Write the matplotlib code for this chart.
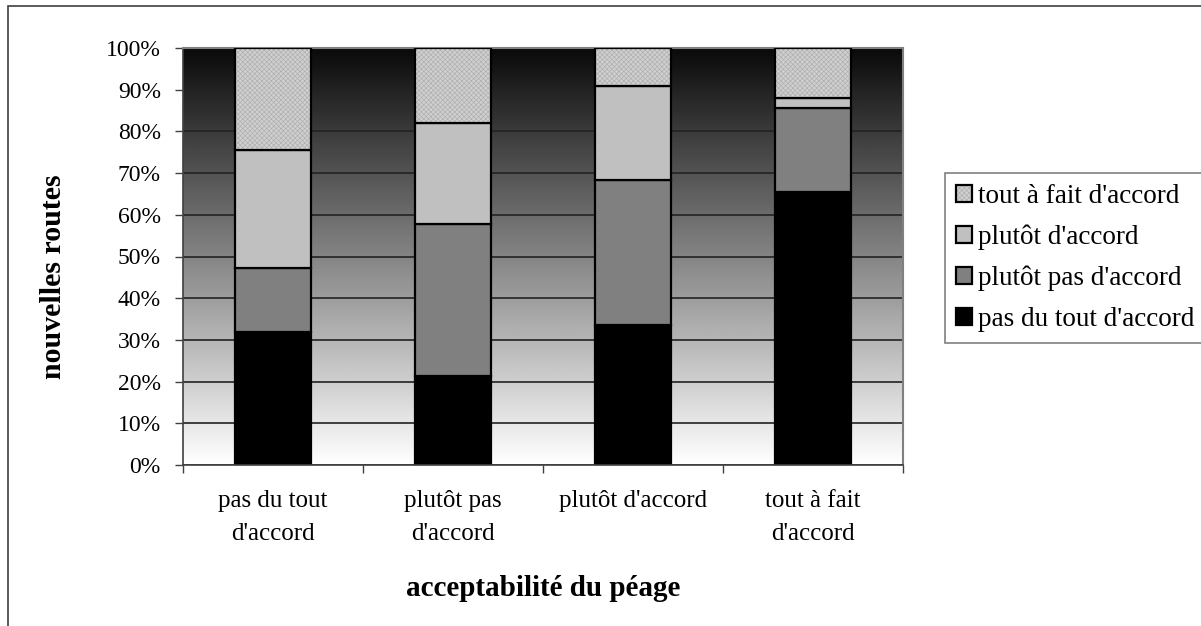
import matplotlib
matplotlib.use("Agg")
import matplotlib.pyplot as plt
from matplotlib.patches import Patch, Rectangle
import numpy as np

plt.rcParams['font.family'] = ['Liberation Serif', 'DejaVu Serif']
plt.rcParams['hatch.linewidth'] = 0.5

# Data (percent of respondents), bottom to top
categories = ["pas du tout\nd'accord", "plutôt pas\nd'accord", "plutôt d'accord", "tout à fait\nd'accord"]
pas_du_tout = [32.0, 21.3, 33.5, 65.5]
plutot_pas = [15.2, 36.4, 34.8, 20.1]
plutot_accord = [28.3, 24.2, 22.6, 2.3]
tout_a_fait = [24.5, 18.1, 9.1, 12.1]
series_names = ["pas du tout d'accord", "plutôt pas d'accord", "plutôt d'accord", "tout à fait d'accord"]
y_ticks = list(range(0, 101, 10))

W, H = 1201, 626
fig = plt.figure(figsize=(W / 100, H / 100), dpi=100)
ax = fig.add_axes([183 / W, 1 - 465 / H, 720 / W, 417 / H])

# Outer chart frame (only left and top visible)
fig.add_artist(Rectangle((8 / W, -0.1), 1.5, 1.1 - 6 / H, transform=fig.transFigure,
                         fill=False, edgecolor='#404040', lw=1.2))

# Gradient background of the plot area: dark at top, white at bottom
grad = np.linspace(1.0, 0.04, 256).reshape(-1, 1)
ax.imshow(grad, extent=(-0.5, 3.5, 0, 100), cmap='gray', vmin=0, vmax=1,
          aspect='auto', origin='lower', zorder=0)

x = np.arange(len(categories))
width = 0.42
bottom = np.zeros(len(categories))
colors = ['#000000', '#808080', '#c0c0c0']
for vals, c in zip([pas_du_tout, plutot_pas, plutot_accord], colors):
    ax.bar(x, vals, width, bottom=bottom, color=c, edgecolor='black', lw=1.6, zorder=2)
    bottom += np.array(vals)
# Textured top segment: hatch layer, then black outline
hatch_face, hatch_col, hatch_pat = '#d0d0d0', '#b0b0b0', 'xxxxxxx'
ax.bar(x, tout_a_fait, width, bottom=bottom, color=hatch_face, edgecolor=hatch_col,
       hatch=hatch_pat, lw=0, zorder=2)
ax.bar(x, tout_a_fait, width, bottom=bottom, fill=False, edgecolor='black', lw=1.6, zorder=3)

ax.set_xlim(-0.5, 3.5)
ax.set_ylim(0, 100)
ax.set_yticks(y_ticks)
ax.set_yticklabels([f"{v}%" for v in y_ticks], fontsize=17)
ax.tick_params(axis='y', direction='out', length=6, width=1, color='#404040', pad=10)

# Category boundary ticks (major) and centred labels (minor)
ax.set_xticks(np.arange(-0.5, 4, 1))
ax.set_xticklabels([])
ax.set_xticks(x, minor=True)
ax.set_xticklabels(categories, minor=True, fontsize=18, linespacing=1.65)
ax.tick_params(axis='x', which='major', direction='out', length=6, width=1, color='#404040')
ax.tick_params(axis='x', which='minor', length=0, pad=18)

ax.yaxis.grid(True, color='#222222', lw=1.2)
ax.set_axisbelow(True)

for s in ['top', 'right']:
    ax.spines[s].set_color('#808080')
    ax.spines[s].set_linewidth(1.5)
for s in ['left', 'bottom']:
    ax.spines[s].set_color('#404040')
    ax.spines[s].set_linewidth(1.2)

fig.text(54 / W, 1 - 277 / H, 'nouvelles routes', rotation=90, ha='center', va='center',
         fontsize=21.5, fontweight='bold')
fig.text(543 / W, 1 - 588 / H, 'acceptabilité du péage', ha='center', va='center',
         fontsize=21, fontweight='bold')

# Legend (top entry first)
hatch_handle = (Patch(facecolor=hatch_face, edgecolor=hatch_col, hatch=hatch_pat, lw=0),
                Patch(fill=False, edgecolor='black', lw=1.6))
handles = [hatch_handle,
           Patch(facecolor='#c0c0c0', edgecolor='black', lw=1.6),
           Patch(facecolor='#808080', edgecolor='black', lw=1.6),
           Patch(facecolor='#000000', edgecolor='black', lw=1.6)]
leg = fig.legend(handles, series_names[::-1], loc='upper left',
                 bbox_to_anchor=(945 / W, 1 - 173 / H), bbox_transform=fig.transFigure,
                 fontsize=19.5, handlelength=0.6, handleheight=0.6, handletextpad=0.22,
                 labelspacing=0.58, borderpad=0.4, borderaxespad=0, fancybox=False,
                 edgecolor='#808080', framealpha=1)
leg.get_frame().set_linewidth(1.2)

fig.savefig('out.png', dpi=100)
